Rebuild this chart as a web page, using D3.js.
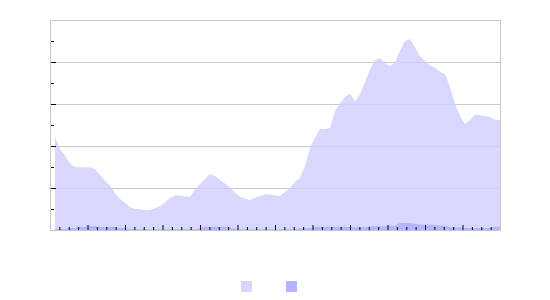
<!DOCTYPE html>
<html>
<head>
<meta charset="utf-8">
<script src="https://cdn.jsdelivr.net/npm/d3@7"></script>
<style>
  html, body { margin: 0; padding: 0; background: #fff; }
  svg { display: block; }
</style>
</head>
<body>
<svg id="chart" width="550" height="300"></svg>
<script>
// ---- data ----
const seriesA = [44.4,38.6,35.5,31.7,29.9,29.9,29.9,29.9,29.0,26.2,23.5,21.2,17.6,14.8,13.0,11.0,10.0,9.9,9.5,9.5,
  10.3,11.4,13.0,15.2,16.4,16.4,15.9,15.9,19.3,21.9,24.3,26.7,25.7,23.8,22.2,20.2,17.7,15.9,14.9,14.3,
  15.3,16.2,17.0,16.9,16.4,16.3,18.1,20.1,22.9,24.9,30.5,39.2,44.1,48.1,48.1,48.6,56.7,60.2,63.5,65.0,
  61.1,64.8,70.5,76.5,80.7,81.9,79.4,78.0,79.9,85.3,90.0,90.8,87.0,82.9,80.5,78.3,77.4,75.4,74.3,68.2,
  60.0,54.3,50.5,52.4,55.0,54.6,54.3,53.8,52.5,52.4];
const seriesB = [0.5,0.5,0.5,1.0,1.0,1.6,1.6,1.9,1.9,1.4,1.4,1.4,1.4,1.0,1.0,0.3,0.3,0.3,0.3,0.3,
  0.3,0.3,0.3,0.3,0.3,0.3,0.3,0.3,0.3,1.0,1.6,1.6,1.6,1.6,1.6,1.1,0.6,0.3,0.3,0.3,
  0.3,0.3,0.3,0.3,0.3,0.3,0.3,0.3,0.3,0.8,0.8,0.8,1.6,1.6,1.6,1.6,1.6,1.6,1.6,1.3,
  1.3,1.3,1.3,1.8,1.8,1.8,1.8,2.0,2.0,3.3,3.3,3.3,2.9,2.5,2.5,2.5,2.5,2.0,2.0,1.3,
  1.3,1.3,1.0,1.0,1.0,1.0,1.0,1.0,1.6,1.6];
const yTicksMajor = [0, 20, 40, 60, 80, 100];
const yTicksMinor = [10, 30, 50, 70, 90];
const xTickCount = 48;   // intervals along the category axis
const xMajorEvery = 4;

// ---- layout ----
const svg = d3.select("#chart");
const L = 50, R = 500, T = 20, B = 230;

const y = d3.scaleLinear().domain([0, 100]).range([B, T]);
const xData = d3.scaleLinear().domain([0, seriesA.length - 1]).range([55, R]);
const xTick = d3.scaleLinear().domain([0, xTickCount]).range([L, R]);

// gridlines (under the semi-transparent area)
svg.append("g").selectAll("line")
  .data(yTicksMajor.filter(d => d > 0 && d < 100))
  .join("line")
  .attr("x1", L).attr("x2", R)
  .attr("y1", d => Math.round(y(d)) + 0.5).attr("y2", d => Math.round(y(d)) + 0.5)
  .attr("stroke", "#c8c8c8").attr("stroke-width", 1);

const areaGen = d3.area().x((d, i) => xData(i)).y0(y(0)).y1(d => y(d)).curve(d3.curveLinear);
svg.append("path").datum(seriesA).attr("d", areaGen)
  .attr("fill", "rgb(206,206,255)").attr("fill-opacity", 0.8);

svg.append("path").datum(seriesB).attr("d", areaGen)
  .attr("fill", "#b4b4ff");

// plot frame
svg.append("rect")
  .attr("x", L + 0.5).attr("y", T + 0.5)
  .attr("width", R - L).attr("height", B - T)
  .attr("fill", "none").attr("stroke", "#c8c8c8").attr("stroke-width", 1);

// y ticks (inside, from left)
const yAxisMajor = d3.axisRight(y).tickValues(yTicksMajor.filter(d => d > 0 && d < 100)).tickSize(5).tickFormat("");
const yAxisMinor = d3.axisRight(y).tickValues(yTicksMinor).tickSize(3).tickFormat("");
[yAxisMajor, yAxisMinor].forEach(ax => {
  const g = svg.append("g").attr("transform", `translate(${L + 1},0)`).call(ax);
  g.select(".domain").remove();
  g.selectAll("line").attr("stroke", "#000");
});

// x ticks (inside, upward from bottom)
const xIdx = d3.range(1, xTickCount);
const xAxisMajor = d3.axisTop(xTick).tickValues(xIdx.filter(k => k % xMajorEvery === 0)).tickSize(5).tickFormat("");
const xAxisMinor = d3.axisTop(xTick).tickValues(xIdx.filter(k => k % xMajorEvery !== 0)).tickSize(3).tickFormat("");
[xAxisMajor, xAxisMinor].forEach(ax => {
  const g = svg.append("g").attr("transform", `translate(0,${B})`).call(ax);
  g.select(".domain").remove();
  g.selectAll("line").attr("stroke", "#000");
});

// legend swatches
const legendColors = ["#d7d7ff", "#b4b4ff"];
svg.append("g").selectAll("rect")
  .data(legendColors)
  .join("rect")
  .attr("x", (d, i) => 241 + i * 45).attr("y", 281)
  .attr("width", 11).attr("height", 11)
  .attr("fill", d => d);
</script>
</body>
</html>
